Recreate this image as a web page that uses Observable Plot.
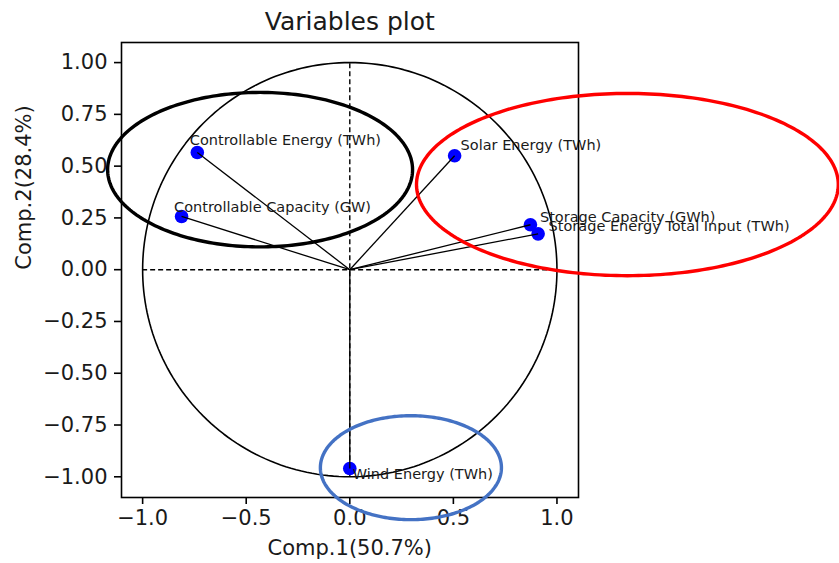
<!DOCTYPE html>
<html>
<head>
<meta charset="utf-8">
<script src="https://cdn.jsdelivr.net/npm/d3@7"></script>
<script src="https://cdn.jsdelivr.net/npm/@observablehq/plot@0.6"></script>
<style>
  html, body { margin: 0; padding: 0; background: white; }
  #chart { width: 839px; height: 563px; }
</style>
</head>
<body>
<div id="chart"></div>
<script>
// ---- Data (PCA loadings) ----
const variables = [
  "Controllable Energy (TWh)",
  "Controllable Capacity (GW)",
  "Solar Energy (TWh)",
  "Storage Capacity (GWh)",
  "Storage Energy Total Input (TWh)",
  "Wind Energy (TWh)"
];
const comp1 = [-0.736, -0.812, 0.506, 0.872, 0.909, 0.0];
const comp2 = [0.566, 0.257, 0.550, 0.217, 0.173, -0.960];

const xTicks = [-1.0, -0.5, 0.0, 0.5, 1.0];
const yTicks = [-1.0, -0.75, -0.5, -0.25, 0.0, 0.25, 0.5, 0.75, 1.0];

const titleText = "Variables plot";
const xLabel = "Comp.1(50.7%)";
const yLabel = "Comp.2(28.4%)";

// ---- Highlight ellipses (annotation shapes, in data units) ----
const ellipseCx = [-0.433, 1.340, 0.295];
const ellipseCy = [0.483, 0.411, -0.956];
const ellipseRx = [0.736, 1.018, 0.437];
const ellipseRy = [0.373, 0.440, 0.251];

// ---- Build tables ----
const points = variables.map((name, i) => ({name, x: comp1[i], y: comp2[i]}));

function ellipsePath(cx, cy, rx, ry, group) {
  const pts = [];
  const n = 240;
  for (let k = 0; k <= n; k++) {
    const t = (2 * Math.PI * k) / n;
    pts.push({x: cx + rx * Math.cos(t), y: cy + ry * Math.sin(t), group});
  }
  return pts;
}
const unitCircle = ellipsePath(0, 0, 1, 1, "circle");
const ellipses = ellipseCx.map((cx, i) => ellipsePath(cx, ellipseCy[i], ellipseRx[i], ellipseRy[i], i));

// label pixel offsets (style)
const labelOffset = {
  "Controllable Energy (TWh)": [-7.5, -7],
  "Controllable Capacity (GW)": [-7.5, -4],
  "Solar Energy (TWh)": [6, -6],
  "Storage Capacity (GWh)": [9.5, -3],
  "Storage Energy Total Input (TWh)": [10.5, -2.5],
  "Wind Energy (TWh)": [3, 10.5]
};
const ellipseColors = ["#000000", "#ff0000", "#4472c4"];
const labelFont = 14.5;

const textMarks = points.map(p => Plot.text([p], {
  x: "x", y: "y", text: "name",
  textAnchor: "start", lineAnchor: "middle",
  dx: labelOffset[p.name][0],
  dy: labelOffset[p.name][1] - 0.32 * labelFont,
  fontSize: labelFont, fill: "#1a1a1a"
}));

const chart = Plot.plot({
  width: 839,
  height: 563,
  marginLeft: 121,
  marginRight: 261,
  marginTop: 42,
  marginBottom: 66,
  style: {fontFamily: "DejaVu Sans", fontSize: "21px", background: "white", color: "black"},
  x: {domain: [-1.102, 1.104], axis: null},
  y: {domain: [-1.1, 1.097], axis: null},
  marks: [
    Plot.line(unitCircle, {x: "x", y: "y", stroke: "black", strokeWidth: 1.6}),
    Plot.ruleY([0], {x1: -1, x2: 1, stroke: "black", strokeWidth: 1.4, strokeDasharray: "5,3"}),
    Plot.ruleX([0], {y1: -1, y2: 1, stroke: "black", strokeWidth: 1.4, strokeDasharray: "5,3"}),
    Plot.dot(points, {x: "x", y: "y", r: 6.8, fill: "#0000ff", stroke: "none"}),
    Plot.link(points, {x1: () => 0, y1: () => 0, x2: "x", y2: "y", stroke: "black", strokeWidth: 1.3}),
    ...textMarks,
    Plot.frame({stroke: "black", strokeWidth: 1.6}),
    Plot.axisX({ticks: xTicks, tickFormat: d3.format(".1f"), tickSize: 7, tickPadding: 6, fontSize: 21, label: null, strokeWidth: 1.6, fill: "#1a1a1a"}),
    Plot.axisY({ticks: yTicks, tickFormat: d3.format(".2f"), tickSize: 7, tickPadding: 7, fontSize: 21, label: null, strokeWidth: 1.6, fill: "#1a1a1a"}),
    ...ellipses.map((e, i) => Plot.line(e, {x: "x", y: "y", stroke: ellipseColors[i], strokeWidth: 3.4})),
    Plot.text([titleText], {x: () => 0, frameAnchor: "top", lineAnchor: "middle", dy: -21, fontSize: 25, fill: "#1a1a1a", text: d => d}),
    Plot.text([xLabel], {x: () => 0, frameAnchor: "bottom", lineAnchor: "middle", dy: 51, fontSize: 21, fill: "#1a1a1a", text: d => d}),
    Plot.text([yLabel], {y: () => 0, frameAnchor: "left", lineAnchor: "middle", dx: -97, rotate: -90, fontSize: 21, fill: "#1a1a1a", text: d => d})
  ]
});
document.getElementById("chart").appendChild(chart);
</script>
</body>
</html>
